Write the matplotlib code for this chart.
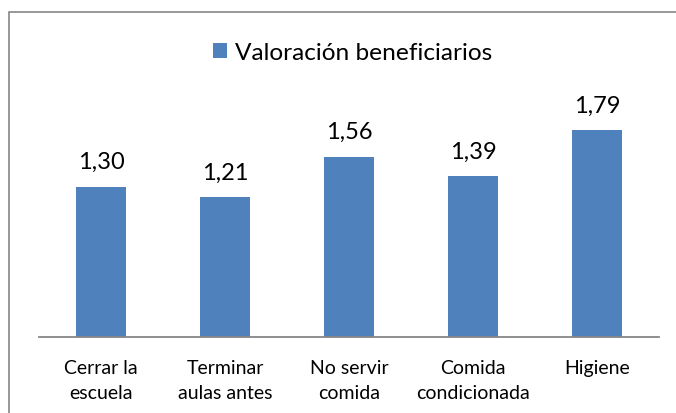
import matplotlib
matplotlib.use("Agg")
import matplotlib.pyplot as plt
from matplotlib.patches import Rectangle

categories = ["Cerrar la\nescuela", "Terminar\naulas antes", "No servir\ncomida",
              "Comida\ncondicionada", "Higiene"]
values = [1.30, 1.21, 1.56, 1.39, 1.79]
value_labels = ["1,30", "1,21", "1,56", "1,39", "1,79"]
series_name = "Valoración beneficiarios"

W, H = 676, 414
BAR = "#4F81BD"
GRID = "#868686"
FONT = "Lato"

fig = plt.figure(figsize=(W / 100, H / 100), dpi=100)
fig.patch.set_facecolor("white")

# outer chart frame
fig.add_artist(Rectangle((9 / W, -0.1), 1.2, 1 - 13 / H + 0.1,
                         transform=fig.transFigure, fill=False,
                         edgecolor=GRID, lw=1.2))

ax = fig.add_axes([39 / W, (H - 338) / H, 620 / W, 231 / H])
x = list(range(len(values)))
ax.bar(x, values, width=0.4, color=BAR, label=series_name)
ax.set_xlim(-0.5, len(values) - 0.5)
ax.set_ylim(0, 2.0)

for xi, v, lab in zip(x, values, value_labels):
    ax.annotate(lab, (xi, v), xytext=(0, 13.5), textcoords="offset points",
                ha="center", va="baseline", fontsize=17, family=FONT,
                color="black")

for s in ["left", "right", "top"]:
    ax.spines[s].set_visible(False)
ax.spines["bottom"].set_color(GRID)
ax.spines["bottom"].set_linewidth(1.3)
ax.set_yticks([])
ax.set_xticks(x)
ax.set_xticklabels(categories, fontsize=14, family=FONT, linespacing=1.55)
ax.tick_params(axis="x", length=0, pad=16)

fig.legend(loc="center", bbox_to_anchor=(353 / W, 1 - 54 / H),
           frameon=False, handlelength=0.57, handleheight=0.57,
           handletextpad=0.33, prop={"family": FONT, "size": 17.6})

fig.savefig("out.png", dpi=100)
